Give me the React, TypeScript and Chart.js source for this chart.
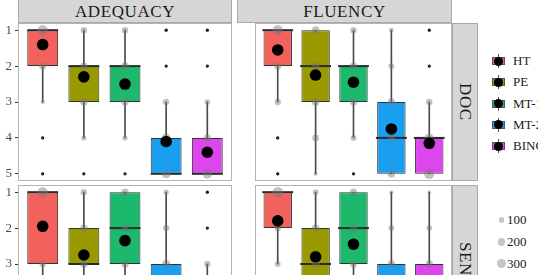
import React, { useEffect, useRef } from "react";
import { Chart, registerables } from "chart.js";
Chart.register(...registerables);

// ---------- data ----------
const categories = ["HT", "PE", "MT-1", "MT-2", "BING"];
const catColors = ["#F3615C", "#999900", "#1CB86C", "#1A9EF0", "#DC46EC"];
const levels = [1, 2, 3, 4, 5];
const yTicks = [1, 2, 3, 4, 5];
const sizeBreaks = [100, 200, 300];
const colFacets = ["ADEQUACY", "FLUENCY"];
const rowFacets = ["DOC", "SENT"];

// ADEQUACY x DOC
const adqDocQ1 = [1, 2, 2, 4, 4];
const adqDocMed = [1, 2, 2, 5, 5];
const adqDocQ3 = [2, 3, 3, 5, 5];
const adqDocWLo = [1, 1, 1, 3, 3];
const adqDocWHi = [3, 4, 4, 5, 5];
const adqDocMean = [1.4, 2.3, 2.5, 4.1, 4.4];
const adqDocOut = [[4, 5], [5], [5], [1, 2], [1, 2]];
const adqDocCounts = [
  [400, 200, 64, 15, 10],
  [150, 200, 200, 100, 15],
  [150, 220, 200, 100, 40],
  [10, 15, 150, 280, 300],
  [10, 15, 120, 200, 350],
];

// FLUENCY x DOC
const fluDocQ1 = [1, 1, 2, 3, 4];
const fluDocMed = [1, 2, 2, 4, 4];
const fluDocQ3 = [2, 3, 3, 5, 5];
const fluDocWLo = [1, 1, 1, 1, 3];
const fluDocWHi = [3, 5, 4, 5, 5];
const fluDocMean = [1.55, 2.25, 2.45, 3.75, 4.15];
const fluDocOut = [[4, 5], [], [5], [], [1, 2]];
const fluDocCounts = [
  [400, 200, 150, 15, 10],
  [220, 220, 220, 170, 60],
  [150, 200, 200, 130, 20],
  [80, 120, 200, 200, 220],
  [10, 15, 150, 250, 400],
];

// ADEQUACY x SEN
const adqSenQ1 = [1, 2, 1, 3, 4];
const adqSenMed = [1, 3, 2, 4, 4];
const adqSenQ3 = [3, 3, 3, 5, 5];
const adqSenWLo = [1, 1, 1, 1, 3];
const adqSenWHi = [5, 4, 4, 5, 5];
const adqSenMean = [1.95, 2.75, 2.35, 3.6, 4.2];
const adqSenOut = [[], [5], [5], [], [1, 2]];
const adqSenCounts = [
  [400, 200, 150, 100, 50],
  [150, 200, 200, 100, 50],
  [200, 200, 200, 80, 40],
  [100, 150, 250, 300, 300],
  [10, 15, 150, 300, 350],
];

// FLUENCY x SEN
const fluSenQ1 = [1, 2, 1, 3, 3];
const fluSenMed = [1, 3, 2, 4, 4];
const fluSenQ3 = [2, 4, 3, 5, 5];
const fluSenWLo = [1, 1, 1, 1, 1];
const fluSenWHi = [3, 5, 4, 5, 5];
const fluSenMean = [1.8, 2.8, 2.45, 3.7, 3.9];
const fluSenOut = [[4, 5], [], [5], [], []];
const fluSenCounts = [
  [400, 150, 120, 20, 10],
  [120, 200, 250, 200, 80],
  [200, 200, 200, 100, 50],
  [60, 120, 200, 250, 250],
  [50, 120, 200, 250, 300],
];

// ---------- styling ----------
const SERIF = "'Liberation Serif', 'DejaVu Serif', serif";
const BORDER = "#b4b4b4";
const STRIP_BG = "#d6d6d6";
const STRIP_BORDER = "#a9a9a9";
const countRadius = (n: number) => 0.26 * Math.sqrt(n);

type PanelData = {
  q1: number[];
  med: number[];
  q3: number[];
  wlo: number[];
  whi: number[];
  mean: number[];
  out: number[][];
  counts: number[][];
};

const panelBorder = {
  id: "panelBorder",
  afterDraw(chart: any) {
    const { ctx, chartArea: a } = chart;
    ctx.save();
    ctx.strokeStyle = BORDER;
    ctx.lineWidth = 1;
    ctx.strokeRect(Math.round(a.left) + 0.5, Math.round(a.top) + 0.5, Math.round(a.right - a.left) - 1, Math.round(a.bottom - a.top) - 1);
    ctx.restore();
  },
};

function Panel({ d, showY, left, top, width, height }: { d: PanelData; showY: boolean; left: number; top: number; width: number; height: number }) {
  const ref = useRef<HTMLCanvasElement>(null);
  useEffect(() => {
    if (!ref.current) return;
    const xs = categories.map((_, i) => i + 1);
    const whiskers = xs.map((x, i) => ({ x, y: [d.wlo[i], d.whi[i]] }));
    const boxes = xs.map((x, i) => ({ x, y: [d.q1[i], d.q3[i]] }));
    const medians = xs.map((x, i) => ({ x, y: d.med[i] }));
    const means = xs.map((x, i) => ({ x, y: d.mean[i] }));
    const outs: any[] = [];
    d.out.forEach((arr, i) => arr.forEach((v) => outs.push({ x: i + 1, y: v })));
    const sums: any[] = [];
    d.counts.forEach((arr, i) =>
      arr.forEach((n, j) => {
        if (n > 0) sums.push({ x: i + 1, y: levels[j], n });
      })
    );
    const chart = new Chart(ref.current, {
      type: "bar",
      data: {
        datasets: [
          {
            type: "bar",
            data: whiskers as any,
            backgroundColor: "#4a4a4a",
            barThickness: 1,
            grouped: false,
            order: 6,
          } as any,
          {
            type: "bar",
            data: boxes as any,
            backgroundColor: catColors,
            borderColor: "#333333",
            borderWidth: 1,
            borderSkipped: false,
            categoryPercentage: 1,
            barPercentage: 0.75,
            grouped: false,
            order: 5,
          } as any,
          {
            type: "scatter",
            data: medians,
            pointStyle: "line",
            pointRadius: 15.4,
            borderColor: "#2a2a2a",
            pointBorderWidth: 2,
            order: 4,
          } as any,
          {
            type: "scatter",
            data: outs,
            pointRadius: 1.6,
            backgroundColor: "#000000",
            borderWidth: 0,
            order: 3,
          } as any,
          {
            type: "scatter",
            data: sums,
            pointRadius: (c: any) => countRadius(c.raw ? c.raw.n : 0),
            backgroundColor: "rgba(120,120,120,0.45)",
            borderWidth: 0,
            order: 2,
          } as any,
          {
            type: "scatter",
            data: means,
            pointRadius: 5.8,
            backgroundColor: "#000000",
            borderWidth: 0,
            order: 1,
          } as any,
        ],
      },
      options: {
        animation: false,
        responsive: false,
        maintainAspectRatio: false,
        events: [],
        layout: { padding: 0, autoPadding: false },
        plugins: { legend: { display: false }, tooltip: { enabled: false } },
        scales: {
          x: {
            type: "linear",
            min: 0.4,
            max: 5.6,
            offset: false,
            display: false,
            afterBuildTicks: (s: any) => {
              s.ticks = xs.map((v) => ({ value: v }));
            },
          },
          y: {
            type: "linear",
            reverse: true,
            min: 0.8,
            max: 5.2,
            display: showY,
            afterBuildTicks: (s: any) => {
              s.ticks = yTicks.map((v) => ({ value: v }));
            },
            afterFit: (s: any) => {
              s.width = 18;
              s.paddingTop = 0;
              s.paddingBottom = 0;
            },
            border: { display: false },
            grid: { drawOnChartArea: false, drawTicks: true, tickLength: 3, color: "#333333" },
            ticks: {
              padding: 3,
              color: "#4d4d4d",
              font: { family: SERIF, size: 13 },
              callback: (v: any) => String(v),
            },
          },
        },
      } as any,
      plugins: [panelBorder],
    });
    return () => chart.destroy();
  }, []);
  return (
    <canvas
      ref={ref}
      width={width}
      height={height}
      style={{ position: "absolute", left, top, width, height }}
    />
  );
}

const panels: { d: PanelData; col: number; row: number }[] = [
  { col: 0, row: 0, d: { q1: adqDocQ1, med: adqDocMed, q3: adqDocQ3, wlo: adqDocWLo, whi: adqDocWHi, mean: adqDocMean, out: adqDocOut, counts: adqDocCounts } },
  { col: 1, row: 0, d: { q1: fluDocQ1, med: fluDocMed, q3: fluDocQ3, wlo: fluDocWLo, whi: fluDocWHi, mean: fluDocMean, out: fluDocOut, counts: fluDocCounts } },
  { col: 0, row: 1, d: { q1: adqSenQ1, med: adqSenMed, q3: adqSenQ3, wlo: adqSenWLo, whi: adqSenWHi, mean: adqSenMean, out: adqSenOut, counts: adqSenCounts } },
  { col: 1, row: 1, d: { q1: fluSenQ1, med: fluSenMed, q3: fluSenQ3, wlo: fluSenWLo, whi: fluSenWHi, mean: fluSenMean, out: fluSenOut, counts: fluSenCounts } },
];

const colLeft = [18, 237];
const colWidth = [214, 215];
const rowTop = [23, 185];
const panelH = 158;
const axisW = 18;

export default function App() {
  return (
    <div
      style={{
        position: "fixed",
        left: 0,
        top: 0,
        width: 538,
        height: 275,
        overflow: "hidden",
        background: "#ffffff",
        fontFamily: SERIF,
      }}
    >
      {panels.map((p, k) => {
        const showY = p.col === 0;
        const left = showY ? colLeft[0] - axisW : colLeft[p.col];
        const width = showY ? colWidth[0] + axisW : colWidth[p.col];
        return <Panel key={k} d={p.d} showY={showY} left={left} top={rowTop[p.row]} width={width} height={panelH} />;
      })}

      {colFacets.map((t, c) => (
        <div
          key={t}
          style={{
            position: "absolute",
            left: colLeft[c],
            top: -3,
            width: colWidth[c],
            height: rowTop[0] + 3,
            boxSizing: "border-box",
            background: STRIP_BG,
            border: `1px solid ${STRIP_BORDER}`,
            display: "flex",
            alignItems: "center",
            justifyContent: "center",
            fontSize: 17,
            letterSpacing: 0.6,
            color: "#1a1a1a",
            paddingTop: 3,
          }}
        >
          {t}
        </div>
      ))}

      {rowFacets.map((t, r) => (
        <div
          key={t}
          style={{
            position: "absolute",
            left: colLeft[1] + colWidth[1],
            top: rowTop[r],
            width: 26,
            height: panelH,
            boxSizing: "border-box",
            background: STRIP_BG,
            border: `1px solid ${STRIP_BORDER}`,
            display: "flex",
            alignItems: "center",
            justifyContent: "center",
            writingMode: "vertical-rl",
            fontSize: 17,
            letterSpacing: 0.6,
            color: "#1a1a1a",
          }}
        >
          {t}
        </div>
      ))}

      {categories.map((c, i) => (
        <div
          key={c}
          style={{
            position: "absolute",
            left: 491,
            top: 61 + i * 21.25 - 9,
            height: 18,
            display: "flex",
            alignItems: "center",
            whiteSpace: "nowrap",
          }}
        >
          <div style={{ position: "relative", width: 15, height: 18 }}>
            <div style={{ position: "absolute", left: 7, top: 2, width: 1, height: 14, background: "#555" }} />
            <div style={{ position: "absolute", left: 1, top: 5, width: 11, height: 6, background: catColors[i], border: "1px solid #555" }} />
            <div style={{ position: "absolute", left: 3, top: 4.5, width: 9, height: 9, borderRadius: "50%", background: "#000" }} />
          </div>
          <span style={{ marginLeft: 7, fontSize: 13, color: "#1a1a1a" }}>{c}</span>
        </div>
      ))}

      {sizeBreaks.map((b, i) => {
        const r = countRadius(b);
        return (
          <div
            key={b}
            style={{ position: "absolute", left: 494, top: 220 + i * 22 - 9, height: 18, width: 60, whiteSpace: "nowrap" }}
          >
            <div
              style={{
                position: "absolute",
                left: 7.5 - r,
                top: 9 - r,
                width: 2 * r,
                height: 2 * r,
                borderRadius: "50%",
                background: "#c6c6c6",
              }}
            />
            <span style={{ position: "absolute", left: 13, top: 1, fontSize: 13, lineHeight: "16px", color: "#1a1a1a" }}>{b}</span>
          </div>
        );
      })}
    </div>
  );
}
